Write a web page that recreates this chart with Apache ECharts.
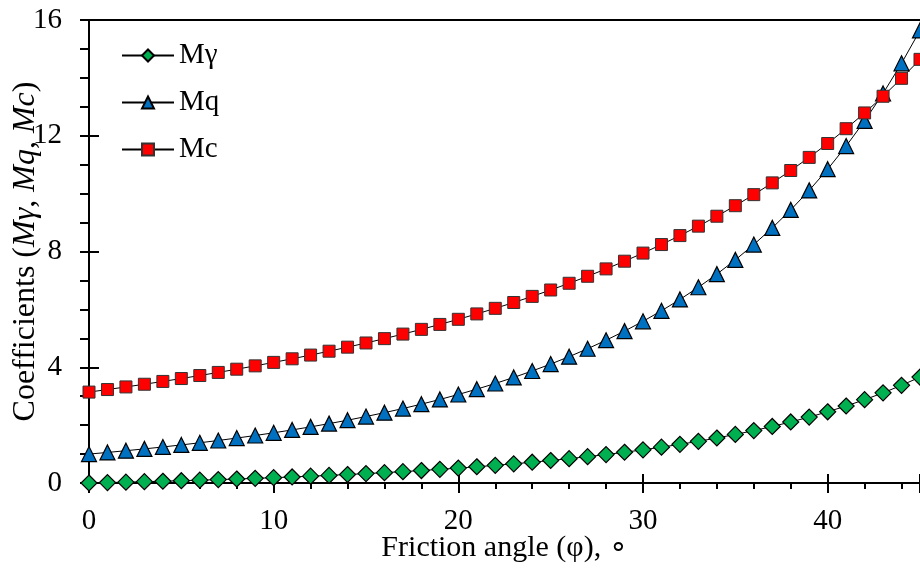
<!DOCTYPE html>
<html>
<head>
<meta charset="utf-8">
<script src="https://cdn.jsdelivr.net/npm/echarts@6/dist/echarts.min.js"></script>
<style>
html,body{margin:0;padding:0;background:#fff;}
#chart{width:920px;height:568px;}
</style>
</head>
<body>
<div id="chart"></div>
<script>
const angles = [0,1,2,3,4,5,6,7,8,9,10,11,12,13,14,15,16,17,18,19,20,21,22,23,24,25,26,27,28,29,30,31,32,33,34,35,36,37,38,39,40,41,42,43,44,45];
const mGamma = [0, 0.014, 0.029, 0.045, 0.061, 0.079, 0.098, 0.117, 0.138, 0.160, 0.184, 0.209, 0.235, 0.263, 0.293, 0.324, 0.358, 0.393, 0.431, 0.472, 0.515, 0.561, 0.610, 0.662, 0.718, 0.778, 0.842, 0.910, 0.983, 1.062, 1.147, 1.238, 1.336, 1.441, 1.555, 1.678, 1.810, 1.954, 2.109, 2.278, 2.461, 2.661, 2.879, 3.116, 3.376, 3.660];
const mQ = [1.000, 1.056, 1.116, 1.179, 1.245, 1.316, 1.390, 1.469, 1.553, 1.641, 1.735, 1.834, 1.940, 2.052, 2.170, 2.297, 2.431, 2.573, 2.725, 2.887, 3.059, 3.243, 3.439, 3.648, 3.871, 4.110, 4.366, 4.640, 4.934, 5.249, 5.587, 5.951, 6.343, 6.764, 7.218, 7.710, 8.240, 8.816, 9.438, 10.112, 10.844, 11.643, 12.514, 13.462, 14.504, 15.640];
const mC = [3.142, 3.229, 3.320, 3.413, 3.510, 3.610, 3.714, 3.821, 3.933, 4.048, 4.168, 4.292, 4.421, 4.555, 4.694, 4.839, 4.989, 5.146, 5.309, 5.480, 5.657, 5.843, 6.036, 6.238, 6.449, 6.670, 6.902, 7.144, 7.399, 7.665, 7.945, 8.240, 8.550, 8.876, 9.219, 9.583, 9.965, 10.371, 10.799, 11.252, 11.732, 12.244, 12.788, 13.365, 13.984, 14.640];
const seriesNames = ['Mγ', 'Mq', 'Mc'];
const xTitle = 'Friction angle (φ), ∘';
const yTitle = '{a|Coefficients (}{b|Mγ}{a|, }{b|Mq}{a|, }{b|Mc}{a|)}';

const FONT = "'Liberation Serif','Times New Roman',serif";
const pair = arr => angles.map((a, i) => [a, arr[i]]);

const chart = echarts.init(document.getElementById('chart'), null, {renderer: 'canvas'});
const baseX = {type: 'value', min: 0, max: 45, interval: 10, splitLine: {show: false}};
const baseY = {type: 'value', min: 0, max: 16, interval: 4, splitLine: {show: false}};
chart.setOption({
  animation: false,
  backgroundColor: '#fff',
  grid: {left: 89, right: 0, top: 20, bottom: 85, containLabel: false, outerBoundsMode: 'none'},
  legend: {
    left: 121, top: 41, orient: 'vertical', padding: 0,
    itemWidth: 52, itemHeight: 15, itemGap: 18,
    textStyle: {fontFamily: FONT, fontSize: 29, color: '#000'},
    data: seriesNames
  },
  xAxis: [
    Object.assign({}, baseX, {
      position: 'bottom',
      axisLine: {show: true, onZero: false, lineStyle: {color: '#000', width: 2}},
      axisTick: {show: true, inside: false, length: 10, lineStyle: {color: '#000', width: 2}},
      minorTick: {show: true, splitNumber: 5, length: 6, lineStyle: {color: '#000', width: 2}},
      axisLabel: {margin: 24, fontFamily: FONT, fontSize: 29, color: '#000', showMaxLabel: false},
      name: xTitle, nameLocation: 'middle', nameGap: 50, nameMoveOverlap: false,
      nameTextStyle: {fontFamily: FONT, fontSize: 30, color: '#000'}
    }),
    Object.assign({}, baseX, {
      position: 'bottom',
      axisLine: {show: false, onZero: false},
      axisTick: {show: true, inside: true, length: 9, lineStyle: {color: '#000', width: 2}},
      axisLabel: {show: false}
    }),
    Object.assign({}, baseX, {
      position: 'top',
      axisLine: {show: true, onZero: false, lineStyle: {color: '#000', width: 2}},
      axisTick: {show: false},
      axisLabel: {show: false}
    })
  ],
  yAxis: [
    Object.assign({}, baseY, {
      position: 'left',
      axisLine: {show: true, onZero: false, lineStyle: {color: '#000', width: 2}},
      axisTick: {show: true, inside: false, length: 9, lineStyle: {color: '#000', width: 2}},
      minorTick: {show: true, splitNumber: 4, length: 9, lineStyle: {color: '#000', width: 2}},
      axisLabel: {margin: 27, fontFamily: FONT, fontSize: 29, color: '#000'},
      name: yTitle, nameLocation: 'middle', nameGap: 47, nameMoveOverlap: false,
      nameTextStyle: {
        fontFamily: FONT, fontSize: 32, color: '#000',
        rich: {
          a: {fontFamily: FONT, fontSize: 32, color: '#000'},
          b: {fontFamily: FONT, fontSize: 32, color: '#000', fontStyle: 'italic'}
        }
      }
    }),
    Object.assign({}, baseY, {
      position: 'left',
      axisLine: {show: false, onZero: false},
      axisTick: {show: true, inside: true, length: 10, lineStyle: {color: '#000', width: 2}},
      axisLabel: {show: false}
    })
  ],
  series: [
    {
      name: seriesNames[0], type: 'line', data: pair(mGamma),
      symbol: 'diamond', symbolSize: 16,
      lineStyle: {color: '#000', width: 1},
      itemStyle: {color: '#00B050', borderColor: '#000', borderWidth: 1.2}
    },
    {
      name: seriesNames[1], type: 'line', data: pair(mQ),
      symbol: 'triangle', symbolSize: 15,
      lineStyle: {color: '#000', width: 1},
      itemStyle: {color: '#0070C0', borderColor: '#000', borderWidth: 1.2}
    },
    {
      name: seriesNames[2], type: 'line', data: pair(mC),
      symbol: 'rect', symbolSize: 12,
      lineStyle: {color: '#000', width: 1},
      itemStyle: {color: '#FF0000', borderColor: '#333', borderWidth: 1}
    }
  ]
});
</script>
</body>
</html>
